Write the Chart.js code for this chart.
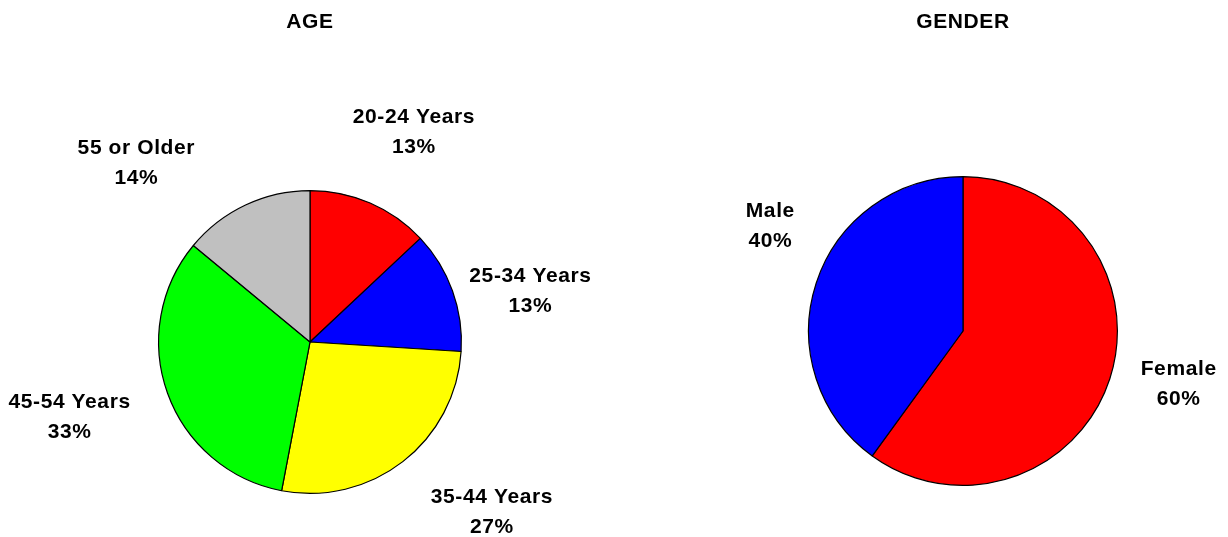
<!DOCTYPE html>
<html>
<head>
<meta charset="utf-8">
<title>Age and Gender</title>
<script src="https://cdn.jsdelivr.net/npm/chart.js@4.4.1/dist/chart.umd.min.js"></script>
<style>
  html, body { margin: 0; padding: 0; background: #fff; }
  #wrap { position: relative; width: 1228px; height: 537px; overflow: hidden; }
  .pane { position: absolute; top: 0; height: 537px; }
  #agePane { left: 0; width: 620px; }
  #genderPane { left: 620px; width: 608px; }
</style>
</head>
<body>
<div id="wrap">
  <div class="pane" id="agePane"><canvas id="ageChart"></canvas></div>
  <div class="pane" id="genderPane"><canvas id="genderChart"></canvas></div>
</div>
<script>
"use strict";

// ─── Data ──────────────────────────────────────────────────
const AGE_LABELS   = ["20-24 Years", "25-34 Years", "35-44 Years", "45-54 Years", "55 or Older"];
const AGE_VALUES   = [13, 13, 27, 33, 14];
const AGE_COLORS   = ["#ff0000", "#0000ff", "#ffff00", "#00ff00", "#c0c0c0"];

const GENDER_LABELS = ["Female", "Male"];
const GENDER_VALUES = [60, 40];
const GENDER_COLORS = ["#ff0000", "#0000ff"];

// label nudges (px) from the default outside position
const AGE_NUDGE    = [[10, 7], [-2, 29], [37, -17], [-18, -5], [-73, 35]];
const GENDER_NUDGE = [[-12, -21], [35, -31]];

const FONT = "bold 21px 'Liberation Sans', Arial, sans-serif";

// ─── Outside labels + title plugin ────────────────────────
const pieLabels = {
  id: "pieLabels",
  afterDatasetsDraw(chart, args, opts) {
    const { ctx } = chart;
    const meta = chart.getDatasetMeta(0);
    const data = chart.data.datasets[0].data;
    const total = data.reduce((a, b) => a + b, 0);
    ctx.save();
    ctx.font = FONT;
    ctx.fillStyle = "#000";
    ctx.textAlign = "center";
    ctx.textBaseline = "middle";
    if ("letterSpacing" in ctx) ctx.letterSpacing = "0.6px";

    meta.data.forEach((arc, i) => {
      const p = arc.getProps(["x", "y", "startAngle", "endAngle", "outerRadius"], true);
      const mid = (p.startAngle + p.endAngle) / 2;
      const d = p.outerRadius + 85;
      const n = opts.nudge[i] || [0, 0];
      const lx = p.x + Math.cos(mid) * d + n[0];
      const ly = p.y + Math.sin(mid) * d + n[1];
      const pct = Math.round(data[i] / total * 100) + "%";
      ctx.fillText(chart.data.labels[i], lx, ly - 15);
      ctx.fillText(pct, lx, ly + 15);
    });

    // title
    const cx = meta.data.length ? meta.data[0].x : chart.width / 2;
    ctx.fillText(opts.title, cx, 22);
    ctx.restore();
  }
};

function buildPie(id, labels, values, colors, padding, title, nudge) {
  const ctx = document.getElementById(id);
  if (!ctx) return;

  new Chart(ctx, {
    type: "pie",
    data: {
      labels,
      datasets: [{
        data: values,
        backgroundColor: colors,
        borderColor: "#000",
        borderWidth: 1.2,
      }],
    },
    options: {
      responsive: true,
      maintainAspectRatio: false,
      animation: false,
      layout: { padding },
      plugins: {
        legend: { display: false },
        tooltip: { enabled: false },
        pieLabels: { title, nudge },
      },
    },
    plugins: [pieLabels],
  });
}

buildPie("ageChart", AGE_LABELS, AGE_VALUES, AGE_COLORS,
  { left: 158, right: 158, top: 190, bottom: 43 }, "AGE", AGE_NUDGE);

buildPie("genderChart", GENDER_LABELS, GENDER_VALUES, GENDER_COLORS,
  { left: 188, right: 110, top: 176, bottom: 51 }, "GENDER", GENDER_NUDGE);
</script>
</body>
</html>
